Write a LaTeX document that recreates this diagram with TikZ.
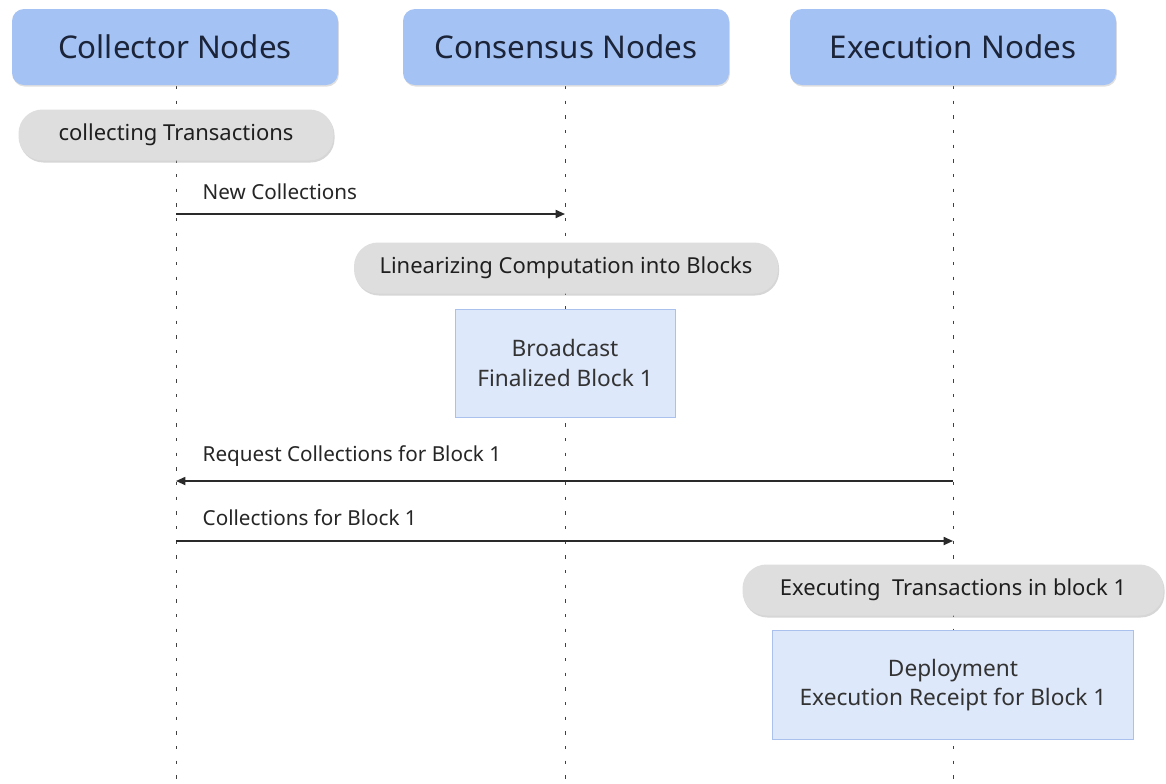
\documentclass[tikz,border=0pt]{standalone}
\usepackage{fontspec}
\setmainfont{Noto Sans}
\usetikzlibrary{shadows,arrows.meta}
\definecolor{headfill}{HTML}{A4C2F4}
\definecolor{headtext}{HTML}{1B2438}
\definecolor{pillfill}{HTML}{DEDEDE}
\definecolor{boxfill}{HTML}{DEE8FB}
\definecolor{boxline}{HTML}{A9C1EC}
\definecolor{ink}{HTML}{2A2A2A}
\tikzset{
  x=0.75pt, y=-0.75pt,
  header/.style={fill=headfill, rounded corners=9pt, text=headtext,
    font=\fontsize{23.5}{26}\selectfont,
    minimum width=326*0.75pt, minimum height=76*0.75pt,
    drop shadow={shadow xshift=0.6pt, shadow yshift=-1.2pt, fill=black!35, opacity=0.35}},
  pill/.style={fill=pillfill, rounded corners=18pt, text=black!88,
    font=\fontsize{16.5}{19}\selectfont, minimum height=51*0.75pt,
    drop shadow={shadow xshift=0.8pt, shadow yshift=-1.5pt, fill=black!40, opacity=0.4}},
  notebox/.style={fill=boxfill, draw=boxline, line width=0.6pt, text=black!80,
    font=\fontsize{17}{22}\selectfont, align=center},
  lifeline/.style={line width=0.7pt, black!75, dash pattern=on 2.5pt off 8.5pt},
  msg/.style={line width=1.3pt, ink, -{Triangle[length=7pt,width=6pt]}},
  msglabel/.style={font=\fontsize{15.5}{18}\selectfont, text=black!85, anchor=west}
}
\begin{document}
\begin{tikzpicture}
\useasboundingbox (0,0) rectangle (1166,783);
\fill[white] (0,0) rectangle (1166,783);

% lifelines
\coordinate (colTop) at (176,86);  \coordinate (colBot) at (176,783);
\coordinate (conTop) at (565,86);  \coordinate (conBot) at (565,783);
\coordinate (exeTop) at (953,86);  \coordinate (exeBot) at (953,783);
\draw[lifeline] (colTop) -- (colBot);
\draw[lifeline] (conTop) -- (conBot);
\draw[lifeline] (exeTop) -- (exeBot);

% participant headers
\node[header] (col) at (175,47) {Collector Nodes};
\node[header] (con) at (566,47) {Consensus Nodes};
\node[header] (exe) at (953,47) {Execution Nodes};

% activities
\node[pill, minimum width=315*0.75pt] (collect) at (176,135) {collecting Transactions};
\node[pill, minimum width=424*0.75pt] (linear) at (566,268) {Linearizing Computation into Blocks};
\node[notebox, minimum width=220*0.75pt, minimum height=108*0.75pt] (bcast) at (565,363) {Broadcast\\Finalized Block 1};
\node[pill, minimum width=421*0.75pt] (execute) at (953,590) {Executing\ \ Transactions in block 1};
\node[notebox, minimum width=361*0.75pt, minimum height=109*0.75pt] (deploy) at (953,685) {Deployment\\Execution Receipt for Block 1};

% messages
\coordinate (m1s) at (176,214); \coordinate (m1e) at (565,214);
\draw[msg] (m1s) -- (m1e);
\node[msglabel] (m1l) at (198,192) {New Collections};

\coordinate (m2s) at (953,481); \coordinate (m2e) at (176,481);
\draw[msg] (m2s) -- (m2e);
\node[msglabel] (m2l) at (198,456) {Request Collections for Block 1};

\coordinate (m3s) at (176,541); \coordinate (m3e) at (953,541);
\draw[msg] (m3s) -- (m3e);
\node[msglabel] (m3l) at (198,518) {Collections for Block 1};
\end{tikzpicture}
\end{document}
